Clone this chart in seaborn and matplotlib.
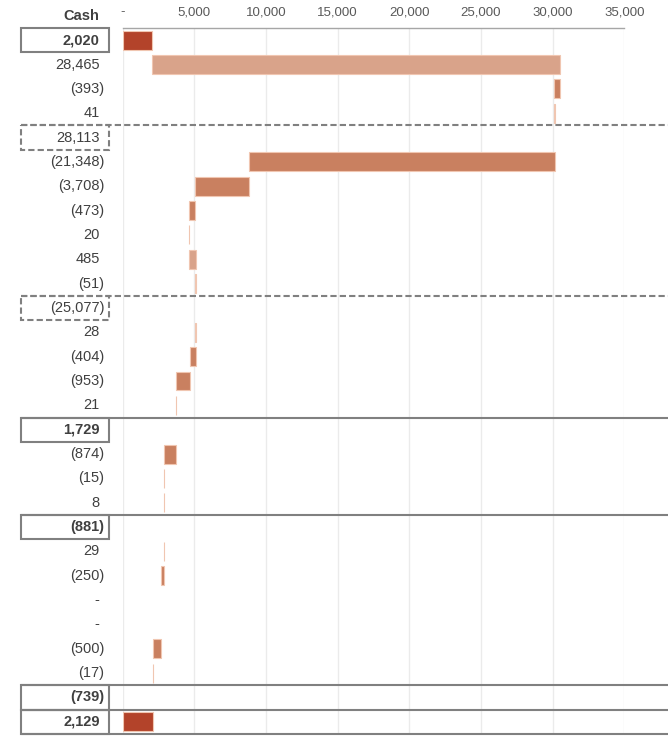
import numpy as np
import pandas as pd
import seaborn as sns
from matplotlib import pyplot as plt
from matplotlib.patches import Rectangle

# row labels as printed in the Cash column, top to bottom
labels = ["2,020", "28,465", "(393)", "41", "28,113", "(21,348)", "(3,708)", "(473)",
          "20", "485", "(51)", "(25,077)", "28", "(404)", "(953)", "21", "1,729",
          "(874)", "(15)", "8", "(881)", "29", "(250)", "-", "-", "(500)", "(17)",
          "(739)", "2,129"]
values = [2020, 28465, -393, 41, 28113, -21348, -3708, -473, 20, 485, -51, -25077,
          28, -404, -953, 21, 1729, -874, -15, 8, -881, 29, -250, 0, 0, -500, -17,
          -739, 2129]
# total = bar from zero, step = floating bar, sub_dash / sub_solid = subtotal row without bar
kinds = ["total", "step", "step", "step", "sub_dash", "step", "step", "step", "step",
         "step", "step", "sub_dash", "step", "step", "step", "step", "sub_solid",
         "step", "step", "step", "sub_solid", "step", "step", "step", "step", "step",
         "step", "sub_solid", "total"]
xticks = [0, 5000, 10000, 15000, 20000, 25000, 30000, 35000]

c_total = "#b3432a"
c_pos = "#d9a38a"
c_neg = "#c98060"
c_edge = "#f0c6b1"
c_line = "#808080"
c_text = "#404040"

# waterfall geometry
lefts, widths, faces, edges = [], [], [], []
running = 0
for v, k in zip(values, kinds):
    if k == "total":
        lefts.append(0); widths.append(v); faces.append(c_total); edges.append(c_edge)
        running = v
    elif k == "step":
        lefts.append(running); widths.append(v)
        faces.append(c_pos if v > 0 else c_neg)
        edges.append(c_edge if v != 0 else "none")
        running += v
    else:
        lefts.append(0); widths.append(0); faces.append("none"); edges.append("none")

rows = ["r%02d" % i for i in range(len(labels))]
df = pd.DataFrame({"row": rows, "width": widths})

W, H = 668, 736
fig = plt.figure(figsize=(W / 100, H / 100), dpi=100)
sns.set_style("white")
plt.rcParams["font.family"] = ["Liberation Sans", "DejaVu Sans"]

ax_l, ax_r, ax_t, ax_b = 122.7, 624.3, 28, 734
ax = fig.add_axes([ax_l / W, 1 - ax_b / H, (ax_r - ax_l) / W, (ax_b - ax_t) / H])

sns.barplot(data=df, x="width", y="row", order=rows, orient="y", width=0.78,
            errorbar=None, ax=ax, color=c_total, saturation=1,
            left=np.array(lefts), facecolor=faces, edgecolor=edges, linewidth=0.8,
            zorder=3)

ax.set_xlim(0, 35000)
ax.set_ylim(len(rows) - 0.5, -0.5)
ax.set_xlabel("")
ax.set_ylabel("")
ax.set_yticks([])
ax.xaxis.tick_top()
ax.set_xticks(xticks)
ax.set_xticklabels(["-" if t == 0 else f"{t:,}" for t in xticks])
ax.tick_params(axis="x", length=0, pad=7, labelsize=9.5, labelcolor="#595959")
ax.grid(axis="x", color="#ebebeb", lw=1, zorder=0)
ax.set_axisbelow(True)
for s in ["left", "right", "bottom"]:
    ax.spines[s].set_visible(False)
ax.spines["top"].set_color("#a6a6a6")
ax.spines["top"].set_linewidth(1)

def ax_x(px):
    return (px - ax_l) / (ax_r - ax_l)

tr = ax.get_yaxis_transform()
box_x0, box_x1 = ax_x(21), ax_x(109)
full_x1 = ax_x(W)

for i, (lab, k) in enumerate(zip(labels, kinds)):
    bold = k in ("total", "sub_solid")
    xr = ax_x(104.3) if lab.startswith("(") else ax_x(99.5)
    ax.text(xr, i, lab, transform=tr, ha="right", va="center", fontsize=10.5,
            color=c_text, fontweight="bold" if bold else "normal", clip_on=False)
    if k == "step":
        continue
    ls = (0, (3, 1.5)) if k == "sub_dash" else "-"
    ax.add_patch(Rectangle((box_x0, i - 0.5), box_x1 - box_x0, 1, transform=tr,
                           fill=False, edgecolor=c_line, lw=1.5, ls=ls, clip_on=False,
                           zorder=5))
    if i > 0:
        ax.plot([box_x0, full_x1], [i - 0.5, i - 0.5], transform=tr, color=c_line,
                lw=1.5, ls=ls, clip_on=False, zorder=5)
    if i == len(labels) - 1:
        ax.plot([box_x0, full_x1], [i + 0.5, i + 0.5], transform=tr, color=c_line,
                lw=1.5, clip_on=False, zorder=5)

fig.text(99.5 / W, 1 - 15.5 / H, "Cash", ha="right", va="center", fontsize=10.5,
         fontweight="bold", color=c_text)

fig.savefig("out.png", dpi=100)
